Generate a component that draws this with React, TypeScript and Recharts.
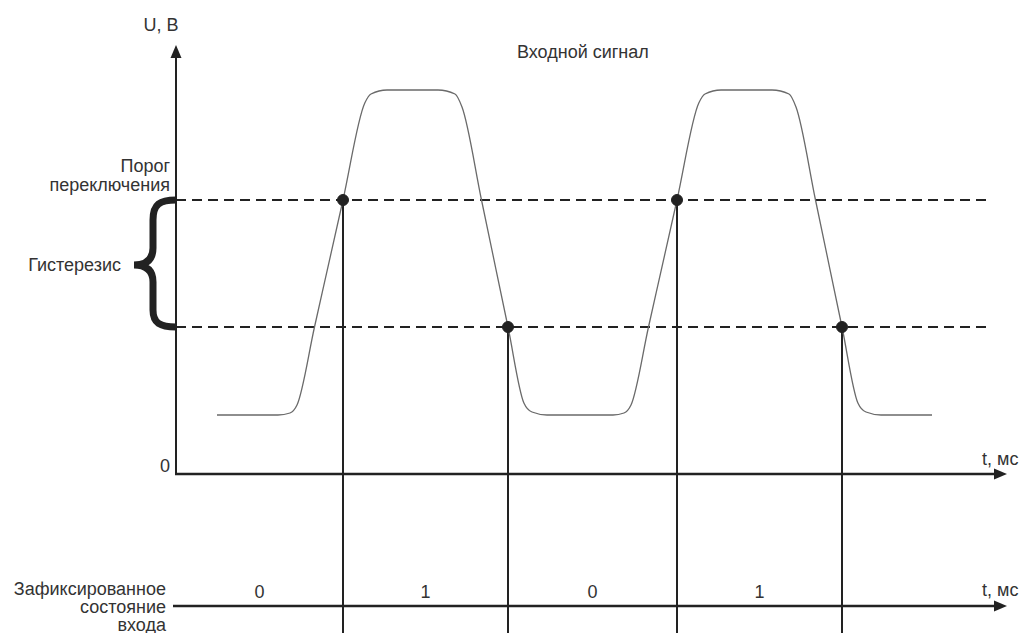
import React from 'react';
import { LineChart, Line, XAxis, YAxis, ReferenceLine, ReferenceDot } from 'recharts';

// time (arbitrary ms units) and voltage (arbitrary V units) of the input signal
const signalT = [4.1, 10.2, 11.4, 12.1, 13.85, 16.7, 18.88, 19.5, 21.1, 26.2, 27.9, 28.6, 30.55, 33.2, 34.79, 35.6, 37.1, 43.7, 44.8, 45.5, 47.25, 50.1, 52.28, 52.9, 54.5, 59.6, 61.3, 62.0, 63.95, 66.6, 68.19, 69.0, 70.5, 75.6];
const signalU = [5.9, 5.9, 6.1, 6.9, 14.7, 27.4, 37.1, 38.0, 38.4, 38.4, 38.0, 36.7, 27.4, 14.7, 7.1, 6.2, 5.9, 5.9, 6.1, 6.9, 14.7, 27.4, 37.1, 38.0, 38.4, 38.4, 38.0, 36.7, 27.4, 14.7, 7.1, 6.2, 5.9, 5.9];

const upperThreshold = 27.4;
const lowerThreshold = 14.7;
const switchUpT = [16.7, 50.1];
const switchDownT = [33.2, 66.6];
const stateT = [8.35, 24.95, 41.65, 58.35];
const stateLabels = ['0', '1', '0', '1'];

const tDomain: [number, number] = [-1, 83.8];
const uDomain: [number, number] = [-15.9, 42.9];
const stateAxisU = -13.2;
const axisEndT = 83.1;
const thresholdEndT = 81.4;

const data = signalT.map((t, i) => ({ t, u: signalU[i] }));

const DARK = '#222';
const FONT = '"Liberation Sans", Arial, sans-serif';
const FS = 18;

const arrowUp = (p: any) => (
  <polygon points={`${p.cx},${p.cy} ${p.cx - 5.5},${p.cy + 13} ${p.cx + 5.5},${p.cy + 13}`} fill={DARK} />
);
const arrowRight = (p: any) => (
  <polygon points={`${p.cx},${p.cy} ${p.cx - 13},${p.cy - 5.5} ${p.cx - 13},${p.cy + 5.5}`} fill={DARK} />
);
const stateText = (label: string) => (p: any) => (
  <text x={p.cx} y={p.cy - 8} textAnchor="middle" fontSize={FS} fontFamily={FONT} fill="#333">{label}</text>
);

export default function App() {
  const allSwitch = [
    ...switchUpT.map((t) => ({ t, u: upperThreshold })),
    ...switchDownT.map((t) => ({ t, u: lowerThreshold })),
  ];
  return (
    <div style={{ position: 'absolute', left: 0, top: 0, width: 1024, height: 633, background: '#fff' }}>
      <LineChart width={1024} height={633} data={data} margin={{ top: 45, right: 10, left: 166, bottom: 0 }}>
        <XAxis dataKey="t" type="number" domain={tDomain} hide allowDataOverflow />
        <YAxis type="number" domain={uDomain} hide allowDataOverflow />
        {/* thresholds */}
        <ReferenceLine segment={[{ x: 0, y: upperThreshold }, { x: thresholdEndT, y: upperThreshold }]} stroke={DARK} strokeWidth={2} strokeDasharray="10 6" ifOverflow="visible" />
        <ReferenceLine segment={[{ x: 0, y: lowerThreshold }, { x: thresholdEndT, y: lowerThreshold }]} stroke={DARK} strokeWidth={2} strokeDasharray="10 6" ifOverflow="visible" />
        {/* axes */}
        <ReferenceLine segment={[{ x: 0, y: -0.1 }, { x: 0, y: uDomain[1] - 1 }]} stroke={DARK} strokeWidth={2} ifOverflow="visible" />
        <ReferenceDot x={0} y={uDomain[1]} r={5} shape={arrowUp} ifOverflow="visible" />
        <ReferenceLine segment={[{ x: -0.1, y: 0 }, { x: axisEndT - 1, y: 0 }]} stroke={DARK} strokeWidth={2.5} ifOverflow="visible" />
        <ReferenceDot x={axisEndT} y={0} r={5} shape={arrowRight} ifOverflow="visible" />
        <ReferenceLine segment={[{ x: -0.3, y: stateAxisU }, { x: axisEndT - 1, y: stateAxisU }]} stroke={DARK} strokeWidth={2.5} ifOverflow="visible" />
        <ReferenceDot x={axisEndT} y={stateAxisU} r={5} shape={arrowRight} ifOverflow="visible" />
        {/* switching verticals */}
        {allSwitch.map((s, i) => (
          <ReferenceLine key={'v' + i} segment={[{ x: s.t, y: s.u }, { x: s.t, y: uDomain[0] }]} stroke={DARK} strokeWidth={2} ifOverflow="visible" />
        ))}
        <Line dataKey="u" type="monotone" stroke="#6a6a6a" strokeWidth={1.3} dot={false} isAnimationActive={false} />
        {allSwitch.map((s, i) => (
          <ReferenceDot key={'d' + i} x={s.t} y={s.u} r={5.5} fill={DARK} stroke={DARK} ifOverflow="visible" />
        ))}
        {stateT.map((t, i) => (
          <ReferenceDot key={'s' + i} x={t} y={stateAxisU} r={1} shape={stateText(stateLabels[i])} ifOverflow="visible" />
        ))}
      </LineChart>
      <svg width={1024} height={633} style={{ position: 'absolute', left: 0, top: 0, pointerEvents: 'none' }} fontFamily={FONT} fontSize={FS} fill="#333">
        <text x={161} y={31} textAnchor="middle">U, В</text>
        <text x={517} y={58}>Входной сигнал</text>
        <text x={170} y={172} textAnchor="end">Порог</text>
        <text x={170} y={191} textAnchor="end">переключения</text>
        <text x={121} y={271} textAnchor="end">Гистерезис</text>
        <text x={165} y={472} textAnchor="middle">0</text>
        <text x={982} y={465}>t, мс</text>
        <text x={982} y={596}>t, мс</text>
        <text x={166} y={595} textAnchor="end">Зафиксированное</text>
        <text x={166} y={613} textAnchor="end">состояние</text>
        <text x={166} y={631} textAnchor="end">входа</text>
        <path d="M176,200 C160,200 153,204 153,220 L153,248 C153,259 147,265 134,265 C147,265 153,271 153,282 L153,310 C153,323 160,327 176,327" fill="none" stroke={DARK} strokeWidth={7} />
      </svg>
    </div>
  );
}
